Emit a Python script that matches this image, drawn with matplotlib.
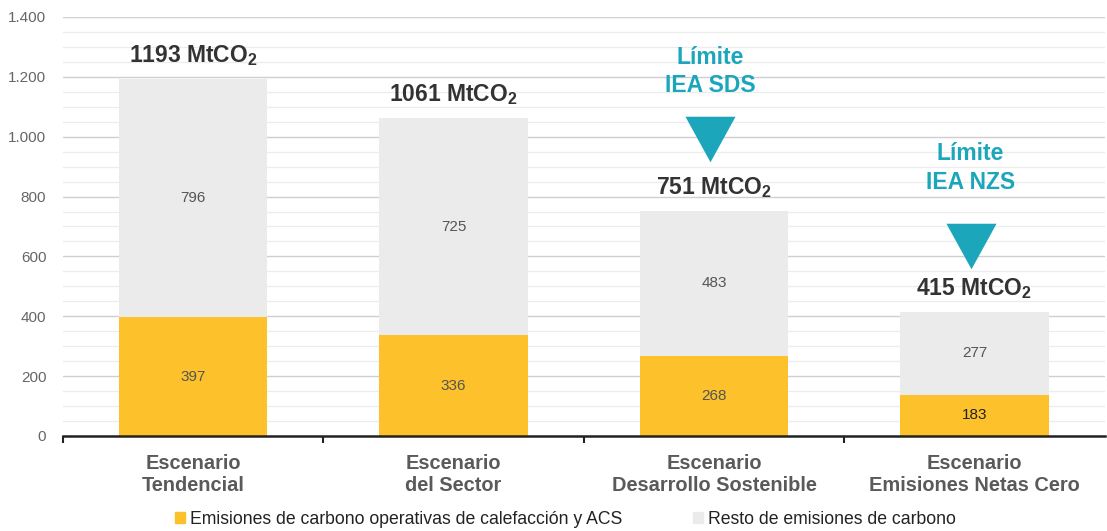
import matplotlib.pyplot as plt
from matplotlib.patches import Patch
from matplotlib.ticker import MultipleLocator, FuncFormatter

plt.rcParams['font.family'] = ['Liberation Sans', 'DejaVu Sans']
plt.rcParams['mathtext.fontset'] = 'custom'
plt.rcParams['mathtext.rm'] = 'Liberation Sans'
plt.rcParams['mathtext.bf'] = 'Liberation Sans:bold'

# datos
escenarios = ['Escenario\nTendencial', 'Escenario\ndel Sector',
              'Escenario\nDesarrollo Sostenible', 'Escenario\nEmisiones Netas Cero']
emisiones_acs = [397, 336, 268, 138]       # altura dibujada de la barra naranja
etiquetas_acs = ['397', '336', '268', '183']  # texto que aparece en la barra
resto = [796, 725, 483, 277]
totales = [1193, 1061, 751, 415]
limites = ['Límite\nIEA SDS', 'Límite\nIEA NZS']
limites_x = [2, 3]
limites_y = [1062, 705]      # vertice superior del triangulo
limites_txt_y = [1218, 895]  # centro del texto

naranja = '#FCC12B'
gris = '#EBEBEB'
turquesa = '#1BA6BC'

fig = plt.figure(figsize=(11.07, 5.31), dpi=100)
ax = fig.add_axes([0.0569, 0.179, 0.941, 0.789])

x = range(len(escenarios))
ax.bar(x, emisiones_acs, width=0.57, color=naranja, zorder=3)
ax.bar(x, resto, width=0.57, bottom=emisiones_acs, color=gris, zorder=3)

for i in x:
    ax.text(i, emisiones_acs[i] / 2, etiquetas_acs[i], ha='center', va='center',
            fontsize=11, color='#222222' if i == 3 else '#555555', zorder=4)
    ax.text(i, emisiones_acs[i] + resto[i] / 2, str(resto[i]), ha='center', va='center',
            fontsize=11, color='#555555', zorder=4)
    ax.annotate(f'{totales[i]} MtCO' + r'$_\mathbf{2}$', (i, emisiones_acs[i] + resto[i]),
                xytext=(0, 8), textcoords='offset points', ha='center', va='bottom',
                fontsize=16.5, fontweight='bold', color='#333333', zorder=4)

# triangulos y textos de limite
for txt, lx, ly, ty in zip(limites, limites_x, limites_y, limites_txt_y):
    ax.scatter([lx - 0.015], [ly - 70], marker=[(-1.1, 1), (1.1, 1), (0, -1)], s=1300,
               color=turquesa, linewidths=0, zorder=5)
    ax.text(lx - 0.015, ty, txt, ha='center', va='center', fontsize=16.5,
            fontweight='bold', color=turquesa, linespacing=1.3)

ax.set_xlim(-0.5, 3.5)
ax.set_ylim(0, 1400)
ax.yaxis.set_major_locator(MultipleLocator(200))
ax.yaxis.set_minor_locator(MultipleLocator(50))
ax.yaxis.set_major_formatter(FuncFormatter(lambda v, p: f'{int(v):,}'.replace(',', '.')))
ax.grid(axis='y', which='major', color='#cfcfcf', linewidth=1.0, zorder=0)
ax.grid(axis='y', which='minor', color='#ececec', linewidth=0.9, zorder=0)
ax.tick_params(axis='y', which='both', length=0, labelsize=11, labelcolor='#666666', pad=12)

ax.set_xticks([-0.5, 0.5, 1.5, 2.5])
ax.set_xticklabels([])
ax.set_xticks(list(x), minor=True)
ax.set_xticklabels(escenarios, minor=True, fontsize=14.4, fontweight='bold', color='#5a5a5a')
ax.tick_params(axis='x', which='major', length=5, width=1.5, color='#222222', direction='out')
ax.tick_params(axis='x', which='minor', length=0, pad=13)

for s in ['top', 'right', 'left']:
    ax.spines[s].set_visible(False)
ax.spines['bottom'].set_color('#222222')
ax.spines['bottom'].set_linewidth(1.8)
ax.spines['bottom'].set_zorder(6)

handles = [Patch(color=naranja), Patch(color=gris)]
fig.legend(handles, ['Emisiones de carbono operativas de calefacción y ACS',
                     'Resto de emisiones de carbono'],
           loc='center', bbox_to_anchor=(0.511, 0.022), ncol=2, frameon=False,
           fontsize=12.7, handlelength=0.55, handleheight=0.55, handletextpad=0.3,
           columnspacing=4.0, labelcolor='#222222')

fig.savefig('out.png', dpi=100)
